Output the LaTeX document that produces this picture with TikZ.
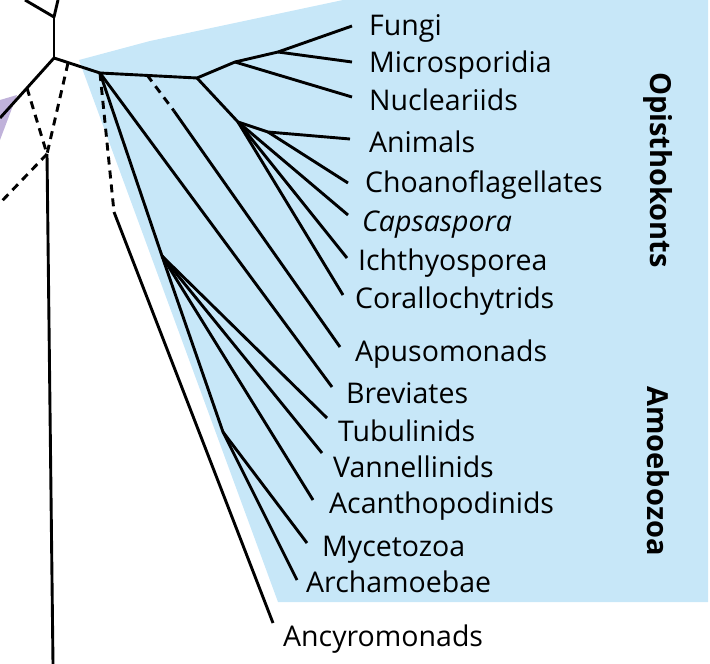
\documentclass[tikz,border=0pt]{standalone}
\usepackage{fontspec}
\setmainfont{Open Sans}
\definecolor{clademain}{RGB}{199,231,248}
\definecolor{cladeside}{RGB}{192,178,218}

\tikzset{
  line/.style={draw, line width=2.9pt, line join=round}, % 实线枝
  dashline/.style={line, dash pattern=on 8pt off 6pt}, % 虚线枝
  taxon/.style={anchor=base west, inner sep=0pt, font=\fontsize{28.5}{32}\selectfont}, % 类群名
  group/.style={rotate=-90, inner sep=0pt, font=\fontsize{29}{32}\selectfont\bfseries} % 大类标签
}

\begin{document}
\begin{tikzpicture}[x=1pt,y=-1pt]
    \clip (0,0) rectangle (710,664);

    % 背景色块
    \fill[clademain] (79,60) -- (150,41) -- (343,0) -- (708,0) -- (708,602) -- (278,602) -- cycle;
    \fill[cladeside] (0,100) -- (17,95) -- (0,140) -- cycle;

    % 内部节点
    \coordinate (n0) at (54,17);
    \coordinate (root) at (54,58);
    \coordinate (d1) at (68,63);
    \coordinate (d2) at (27,88);
    \coordinate (j) at (47,154);
    \coordinate (r1) at (100,73);
    \coordinate (a0) at (147,75);
    \coordinate (a1) at (174,111);
    \coordinate (c1) at (114,212);
    \coordinate (o1) at (197,78);
    \coordinate (f1) at (235,62);
    \coordinate (f2) at (278,52);
    \coordinate (h1) at (238,122);
    \coordinate (h2) at (268,132);
    \coordinate (am) at (162,256);
    \coordinate (m1) at (223,432);

    % 末端
    \coordinate (t-top1) at (25,0);
    \coordinate (t-top2) at (58,0);
    \coordinate (t-left) at (0,118);
    \coordinate (t-left2) at (0,203);
    \coordinate (t-bottom) at (53,664);
    \coordinate (t-fun) at (352,26);
    \coordinate (t-mic) at (352,62);
    \coordinate (t-nuc) at (352,97);
    \coordinate (t-ani) at (350,139);
    \coordinate (t-cho) at (348,183);
    \coordinate (t-cap) at (348,215);
    \coordinate (t-ich) at (347,258);
    \coordinate (t-cor) at (343,295);
    \coordinate (t-apu) at (340,347);
    \coordinate (t-bre) at (332,387);
    \coordinate (t-tub) at (327,418);
    \coordinate (t-van) at (322,453);
    \coordinate (t-aca) at (313,500);
    \coordinate (t-myc) at (307,543);
    \coordinate (t-arc) at (297,580);
    \coordinate (t-anc) at (273,623);

    % 根部
    \draw[line] (t-top1) -- (n0) -- (t-top2);
    \draw[line] (n0) -- (root);
    \draw[line] (t-left) -- (root) -- (r1);
    \draw[dashline] (d1) -- (j);
    \draw[dashline] (d2) -- (j);
    \draw[line] (j) -- (t-bottom);
    \draw[dashline] (j) -- (t-left2);

    % 右侧分支
    \draw[line] (r1) -- (o1);
    \draw[dashline] (a0) -- (a1);
    \draw[line] (a1) -- (t-apu);
    \draw[dashline] (r1) -- (c1);
    \draw[line] (c1) -- (t-anc);
    \draw[line] (r1) -- (am);
    \draw[line] (r1) -- (t-bre);

    \draw[line] (o1) -- (f1) -- (f2) -- (t-fun);
    \draw[line] (f2) -- (t-mic);
    \draw[line] (f1) -- (t-nuc);
    \draw[line] (o1) -- (h1) -- (h2) -- (t-ani);
    \draw[line] (h2) -- (t-cho);
    \foreach \t in {cap,ich,cor} {
      \draw[line] (h1) -- (t-\t);
    }

    \foreach \t in {tub,van,aca} {
      \draw[line] (am) -- (t-\t);
    }
    \draw[line] (am) -- (m1) -- (t-myc);
    \draw[line] (m1) -- (t-arc);

    % 标签
    \foreach \n/\x/\y/\txt in {fun/369/35/Fungi, mic/369/72/Microsporidia,
      nuc/369/110/Nucleariids, ani/369/152/Animals, cho/365/192/Choanoflagellates,
      cap/362/231/\textit{Capsaspora}, ich/358/270/Ichthyosporea,
      cor/355/308/Corallochytrids, apu/355/361/Apusomonads, bre/346/403/Breviates,
      tub/338/441/Tubulinids, van/333/477/Vannellinids, aca/329/513/Acanthopodinids,
      myc/322/556/Mycetozoa, arc/306/592/Archamoebae, anc/283/646/Ancyromonads} {
      \node[taxon] (l-\n) at (\x,\y) {\txt};
    }
    \node[group] (opis) at (658,170) {Opisthokonts};
    \node[group] (amoe) at (658,471) {Amoebozoa};
\end{tikzpicture}
\end{document}
